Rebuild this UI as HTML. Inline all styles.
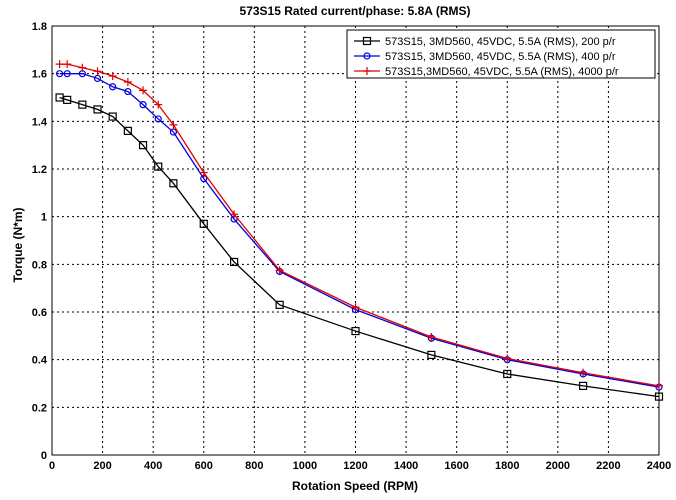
<!DOCTYPE html>
<html><head><style>body{margin:0;background:#fff}svg{display:block}text{font-family:"Liberation Sans",Arial,sans-serif}</style></head>
<body>
<svg id="s" width="676" height="500" xmlns="http://www.w3.org/2000/svg">
<rect width="676" height="500" fill="#fff"/>
<text x="355" y="15" font-size="12" font-weight="bold" text-anchor="middle">573S15 Rated current/phase: 5.8A (RMS)</text>
<text x="355" y="490" font-size="12" font-weight="bold" text-anchor="middle">Rotation Speed (RPM)</text>
<text transform="translate(22,245) rotate(-90)" font-size="12" font-weight="bold" text-anchor="middle">Torque (N*m)</text>
<g id="g"></g>
</svg>
<script>
const X0=52,X1=659,Y0=455,Y1=26;
const fx=v=>X0+(X1-X0)*v/2400, fy=v=>Y0-(Y0-Y1)*v/1.8;
let h='';
for(let i=1;i<12;i++){const x=fx(i*200);h+=`<line x1="${x}" y1="${Y1}" x2="${x}" y2="${Y0}" stroke="#000" stroke-width="1" stroke-dasharray="2,3"/>`;}
for(let i=1;i<9;i++){const y=fy(i*0.2);h+=`<line x1="${X0}" y1="${y}" x2="${X1}" y2="${y}" stroke="#000" stroke-width="1" stroke-dasharray="2,3"/>`;}
h+=`<rect x="${X0}" y="${Y1}" width="${X1-X0}" height="${Y0-Y1}" fill="none" stroke="#000"/>`;
for(let i=0;i<=12;i++){const x=fx(i*200);h+=`<text x="${x}" y="${Y0+14}" font-size="11" font-weight="bold" text-anchor="middle">${i*200}</text>`;}
for(let i=0;i<=9;i++){const y=fy(i*0.2);const l=i==0?'0':i==5?'1':(i*0.2).toFixed(1);h+=`<text x="${X0-5}" y="${y+4}" font-size="11" font-weight="bold" text-anchor="end">${l}</text>`;}
const xs=[30,60,120,180,240,300,360,420,480,600,720,900,1200,1500,1800,2100,2400];
const S=[
{c:'#000',m:'sq',d:[1.5,1.49,1.47,1.45,1.42,1.36,1.30,1.21,1.14,0.97,0.81,0.63,0.52,0.42,0.34,0.29,0.245]},
{c:'#0000e0',m:'o',d:[1.60,1.60,1.60,1.58,1.545,1.525,1.47,1.41,1.355,1.16,0.99,0.77,0.61,0.49,0.40,0.34,0.285]},
{c:'#e00000',m:'+',d:[1.64,1.64,1.625,1.61,1.59,1.565,1.53,1.47,1.385,1.185,1.01,0.775,0.62,0.495,0.405,0.345,0.29]}];
function mk(m,x,y,c){if(m=='sq')return `<rect x="${x-3.5}" y="${y-3.5}" width="7" height="7" fill="none" stroke="${c}" stroke-width="1.2"/>`;
if(m=='o')return `<circle cx="${x}" cy="${y}" r="3" fill="none" stroke="${c}" stroke-width="1.2"/>`;
return `<path d="M${x-4} ${y}H${x+4}M${x} ${y-4}V${y+4}" stroke="${c}" stroke-width="1.2"/>`;}
for(const s of S){h+=`<polyline fill="none" stroke="${s.c}" stroke-width="1.3" points="${xs.map((x,i)=>fx(x)+','+fy(s.d[i])).join(' ')}"/>`;
xs.forEach((x,i)=>h+=mk(s.m,fx(x),fy(s.d[i]),s.c));}
h+=`<rect x="347" y="30" width="308" height="48" fill="#fff" stroke="#000"/>`;
const L=['573S15, 3MD560, 45VDC, 5.5A (RMS), 200 p/r','573S15, 3MD560, 45VDC, 5.5A (RMS), 400 p/r','573S15,3MD560, 45VDC, 5.5A (RMS), 4000 p/r'];
S.forEach((s,i)=>{const y=41+i*15;h+=`<line x1="354" y1="${y}" x2="380" y2="${y}" stroke="${s.c}" stroke-width="1.3"/>`+mk(s.m,367,y,s.c)+`<text x="385" y="${y+4}" font-size="11">${L[i]}</text>`;});
document.getElementById('g').innerHTML=h;
</script>
</body></html>
